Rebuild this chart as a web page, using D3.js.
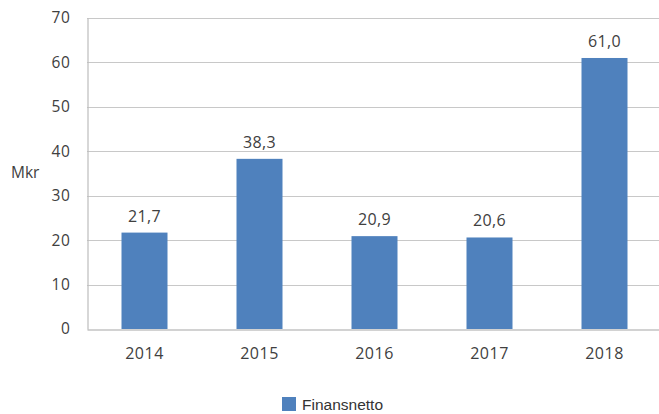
<!DOCTYPE html>
<html>
<head>
<meta charset="utf-8">
<script src="https://cdn.jsdelivr.net/npm/d3@7/dist/d3.min.js"></script>
<style>
  html, body { margin: 0; padding: 0; background: #fff; }
  svg { display: block; }
</style>
</head>
<body>
<svg id="chart" width="659" height="414"></svg>
<script>
const categories = ["2014", "2015", "2016", "2017", "2018"];
const values = [21.7, 38.3, 20.9, 20.6, 61.0];
const valueLabels = ["21,7", "38,3", "20,9", "20,6", "61,0"];
const yTicks = [0, 10, 20, 30, 40, 50, 60, 70];
const seriesName = "Finansnetto";
const yAxisTitle = "Mkr";

const svg = d3.select("#chart");
const margin = { left: 87, right: -3, top: 18, bottom: 85 };
const W = 659, H = 414;
const x = d3.scaleBand().domain(categories).range([margin.left, W - margin.right]).paddingInner(0.6).paddingOuter(0.3);
const y = d3.scaleLinear().domain([0, 70]).range([H - margin.bottom, margin.top]);

const font = "'Open Sans', 'Lato', sans-serif";
const textColor = "#404040";

// gridlines
svg.append("g").selectAll("line").data(yTicks.filter(d => d > 0)).join("line")
  .attr("x1", margin.left).attr("x2", W)
  .attr("y1", d => Math.round(y(d)) + 0.5).attr("y2", d => Math.round(y(d)) + 0.5)
  .attr("stroke", "#c8c8c8").attr("stroke-width", 1.2);

// y axis
const yAxis = d3.axisLeft(y).tickValues(yTicks).tickSize(0).tickPadding(17).tickFormat(d3.format("d"));
const gy = svg.append("g").attr("transform", `translate(${margin.left + 0.5},0)`).call(yAxis);
gy.select(".domain").attr("stroke", "#bdbdbd").attr("stroke-width", 1.2);
gy.selectAll("text").attr("font-family", font).attr("font-size", 15.5).attr("letter-spacing", 0.6).attr("fill", textColor);

// bars
svg.append("g").selectAll("rect").data(values).join("rect")
  .attr("x", (d, i) => x(categories[i]))
  .attr("width", x.bandwidth())
  .attr("y", d => y(d))
  .attr("height", d => y(0) - y(d))
  .attr("fill", "#4f81bd");

// x axis
const xAxis = d3.axisBottom(x).tickSize(0).tickPadding(18);
const gx = svg.append("g").attr("transform", `translate(0,${Math.round(y(0)) + 0.5})`).call(xAxis);
gx.select(".domain").attr("stroke", "#a6a6a6").attr("stroke-width", 1.2);
gx.selectAll("text").attr("font-family", font).attr("font-size", 16).attr("letter-spacing", 0.5).attr("fill", textColor);

// value labels
svg.append("g").selectAll("text").data(values).join("text")
  .attr("x", (d, i) => x(categories[i]) + x.bandwidth() / 2)
  .attr("y", d => y(d) - 11)
  .attr("text-anchor", "middle")
  .attr("font-family", font).attr("font-size", 16).attr("letter-spacing", 0.3).attr("fill", textColor)
  .text((d, i) => valueLabels[i]);

// y axis title
svg.append("text").attr("x", 11).attr("y", 178)
  .attr("font-family", font).attr("font-size", 15.5).attr("fill", textColor)
  .text(yAxisTitle);

// legend
const lg = svg.append("g").attr("transform", "translate(282,397)");
lg.append("rect").attr("width", 14).attr("height", 14).attr("fill", "#4f81bd");
lg.append("text").attr("x", 20).attr("y", 13)
  .attr("font-family", "'Liberation Sans', Arial, sans-serif").attr("font-size", 15.5).attr("fill", "#333")
  .text(seriesName);
</script>
</body>
</html>
